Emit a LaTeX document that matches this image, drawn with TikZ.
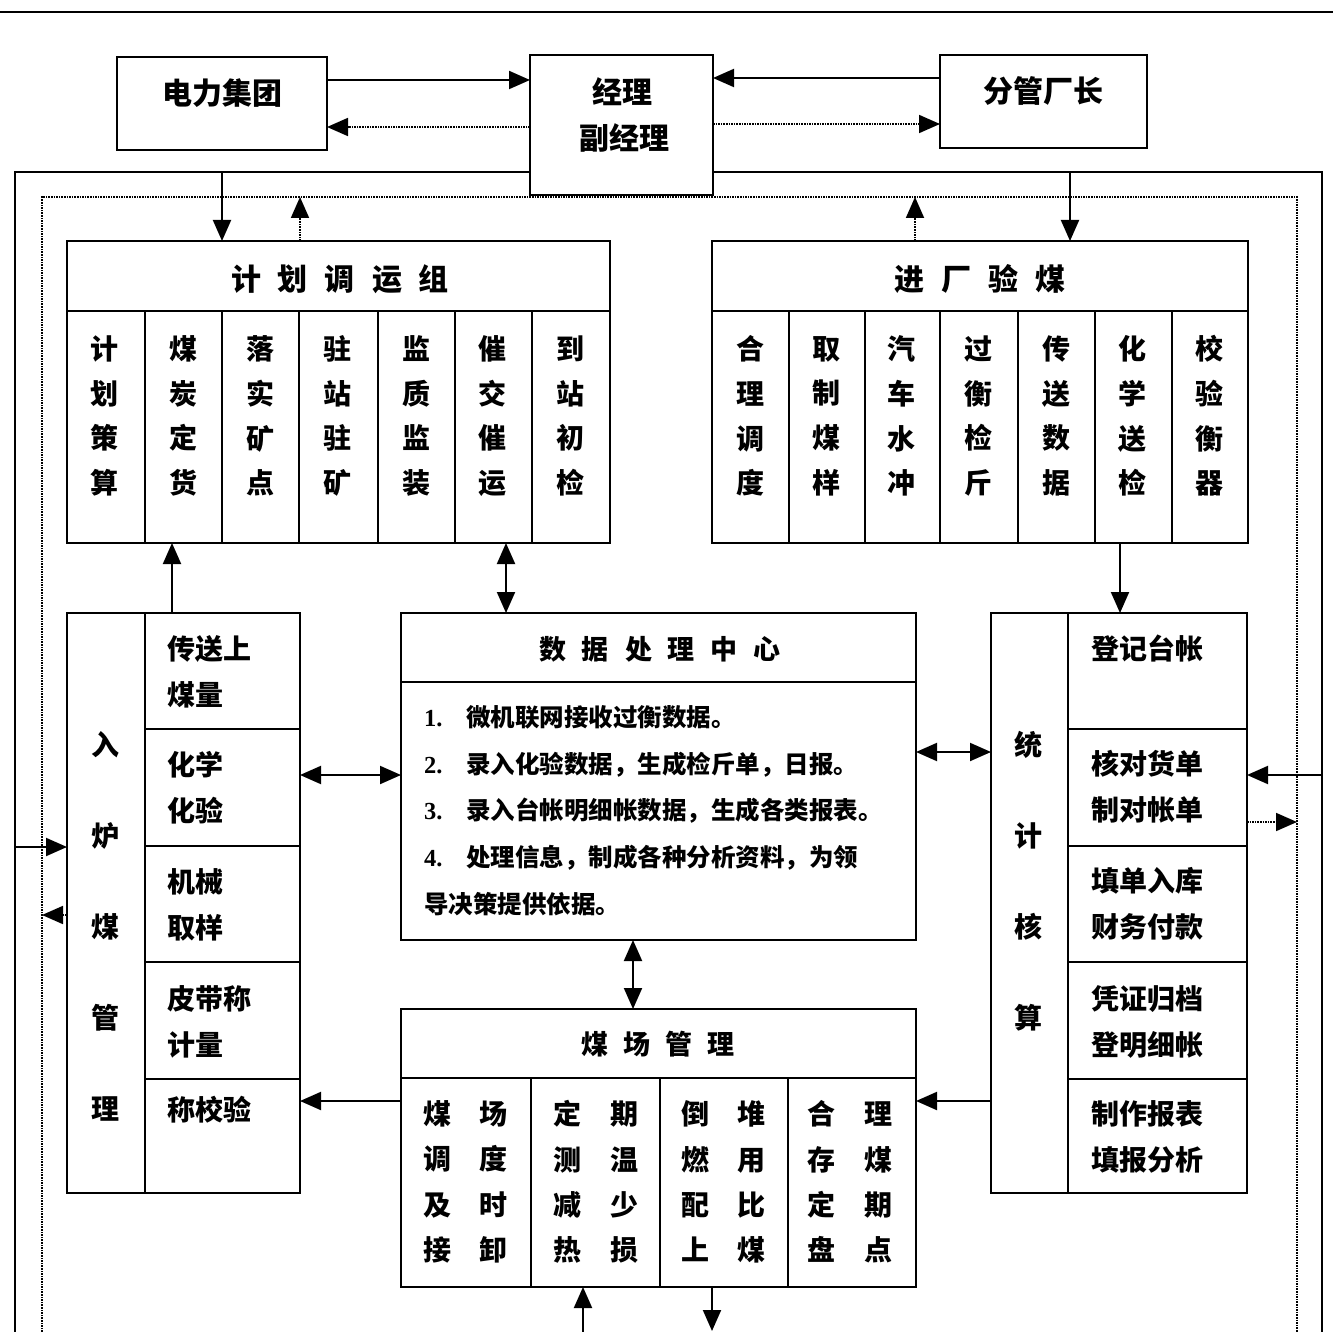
\documentclass[tikz,border=0pt]{standalone}
\usepackage{fontspec}
\setmainfont{Noto Sans CJK SC}
\newfontfamily\numf{Liberation Serif}
\usetikzlibrary{arrows.meta}
\newcommand\gapx[1]{\hspace{#1pt}}
\begin{document}
\begin{tikzpicture}[x=1pt,y=-1pt,
  box/.style={draw, line width=2.5pt, inner sep=0pt, outer sep=0pt},
  dv/.style={line width=2pt},
  con/.style={line width=2pt},
  dot/.style={line width=1.8pt, dash pattern=on 1.6pt off 1pt},
  tip/.tip={Triangle[length=21pt,width=18pt]},
  arr/.style={con, -tip},
  darr/.style={dot, -tip},
  barr/.style={con, tip-tip},
  txt/.style={inner sep=0pt, font=\bfseries\fontsize{#1pt}{#1pt}\selectfont},
  col/.style={inner sep=0pt, align=center, font=\bfseries\fontsize{28pt}{#1pt}\selectfont},
  cell/.style={inner sep=0pt, align=left, anchor=west, font=\bfseries\fontsize{28pt}{46pt}\selectfont},
]
\useasboundingbox (0,0) rectangle (1333,1332);
% header rule
\draw[line width=2.5pt] (0,12) -- (1333,12);

% ---------- boxes ----------
\node[box, minimum width=210pt, minimum height=93pt] (dl) at (222,103.5) {};
\node[box, minimum width=183pt, minimum height=140pt] (jl) at (621.5,125) {};
\node[box, minimum width=207pt, minimum height=93pt] (fg) at (1043.5,101.5) {};
\node[box, minimum width=543pt, minimum height=302pt] (jh) at (338.5,392) {};
\node[box, minimum width=536pt, minimum height=302pt] (jc) at (980,392) {};
\node[box, minimum width=233pt, minimum height=580pt] (rl) at (183.5,903) {};
\node[box, minimum width=515pt, minimum height=327pt] (sj) at (658.5,776.5) {};
\node[box, minimum width=256pt, minimum height=580pt] (tj) at (1119,903) {};
\node[box, minimum width=515pt, minimum height=278pt] (mc) at (658.5,1148) {};

% ---------- box texts ----------
\node[txt=30] (dlT) at (222,93) {电力集团};
\node[txt=30] (jlT1) at (622,92) {经理};
\node[txt=30] (jlT2) at (624,138) {副经理};
\node[txt=30] (fgT) at (1043,91) {分管厂长};

% 计划调运组
\draw[dv] (67,311) -- (610,311);
\foreach \x in {145,222,299,378,455,532} \draw[dv] (\x,311) -- (\x,543);
\node[txt=30] (jhT) at (340,279) {计\gapx{17}划\gapx{17}调\gapx{17}运\gapx{17}组};
\node[col=44.7] (jh1) at (104,416) {计\\划\\策\\算};
\node[col=44.7] (jh2) at (183,416) {煤\\炭\\定\\货};
\node[col=44.7] (jh3) at (260,416) {落\\实\\矿\\点};
\node[col=44.7] (jh4) at (337,416) {驻\\站\\驻\\矿};
\node[col=44.7] (jh5) at (416,416) {监\\质\\监\\装};
\node[col=44.7] (jh6) at (492,416) {催\\交\\催\\运};
\node[col=44.7] (jh7) at (570,416) {到\\站\\初\\检};

% 进厂验煤
\draw[dv] (712,311) -- (1248,311);
\foreach \x in {789,865,940,1018,1095,1172} \draw[dv] (\x,311) -- (\x,543);
\node[txt=30] (jcT) at (980,279) {进\gapx{17}厂\gapx{17}验\gapx{17}煤};
\node[col=44.7] (jc1) at (750,416) {合\\理\\调\\度};
\node[col=44.7] (jc2) at (826,416) {取\\制\\煤\\样};
\node[col=44.7] (jc3) at (901,416) {汽\\车\\水\\冲};
\node[col=44.7] (jc4) at (978,416) {过\\衡\\检\\斤};
\node[col=44.7] (jc5) at (1056,416) {传\\送\\数\\据};
\node[col=44.7] (jc6) at (1132,416) {化\\学\\送\\检};
\node[col=44.7] (jc7) at (1209,416) {校\\验\\衡\\器};

% 入炉煤管理
\draw[dv] (145,613) -- (145,1193);
\foreach \y in {729,846,962,1079} \draw[dv] (145,\y) -- (300,\y);
\node[col=91] (rlT) at (105,926.5) {入\\炉\\煤\\管\\理};
\node[cell] (rl1) at (167,671.5) {传送上\\煤量};
\node[cell] (rl2) at (167,788) {化学\\化验};
\node[cell] (rl3) at (167,905) {机械\\取样};
\node[cell] (rl4) at (167,1021.5) {皮带称\\计量};
\node[cell] (rl5) at (167,1110) {称校验};

% 统计核算
\draw[dv] (1068,613) -- (1068,1193);
\foreach \y in {729,846,962,1079} \draw[dv] (1068,\y) -- (1247,\y);
\node[col=91] (tjT) at (1028,881.5) {统\\计\\核\\算};
\node[cell] (tj1) at (1091,649) {登记台帐};
\node[cell] (tj2) at (1091,787) {核对货单\\制对帐单};
\node[cell] (tj3) at (1091,904) {填单入库\\财务付款};
\node[cell] (tj4) at (1091,1021.5) {凭证归档\\登明细帐};
\node[cell] (tj5) at (1091,1136.5) {制作报表\\填报分析};

% 数据处理中心
\draw[dv] (401,682) -- (916,682);
\node[txt=27] (sjT) at (660,649) {数\gapx{16}据\gapx{16}处\gapx{16}理\gapx{16}中\gapx{16}心};
\node[inner sep=0pt, align=left, anchor=west, font=\bfseries\fontsize{24.5pt}{46.75pt}\selectfont] (sjB) at (424,810.5)
 {\makebox[42pt][l]{\numf\bfseries 1.}微机联网接收过衡数据。\\
  \makebox[42pt][l]{\numf\bfseries 2.}录入化验数据，生成检斤单，日报。\\
  \makebox[42pt][l]{\numf\bfseries 3.}录入台帐明细帐数据，生成各类报表。\\
  \makebox[42pt][l]{\numf\bfseries 4.}处理信息，制成各种分析资料，为领\\
  导决策提供依据。};

% 煤场管理
\draw[dv] (401,1078) -- (916,1078);
\foreach \x in {531,660,788} \draw[dv] (\x,1078) -- (\x,1287);
\node[txt=27] (mcT) at (658,1044) {煤\gapx{15}场\gapx{15}管\gapx{15}理};
\node[col=45.3] (mc1) at (465.5,1182) {煤\gapx{29}场\\调\gapx{29}度\\及\gapx{29}时\\接\gapx{29}卸};
\node[col=45.3] (mc2) at (596,1182) {定\gapx{29}期\\测\gapx{29}温\\减\gapx{29}少\\热\gapx{29}损};
\node[col=45.3] (mc3) at (723.5,1182) {倒\gapx{29}堆\\燃\gapx{29}用\\配\gapx{29}比\\上\gapx{29}煤};
\node[col=45.3] (mc4) at (850,1182) {合\gapx{29}理\\存\gapx{29}煤\\定\gapx{29}期\\盘\gapx{29}点};

% ---------- frame lines ----------
\coordinate (oTL) at (15,172);
\coordinate (oBL) at (15,1332);
\coordinate (oTR) at (1322,172);
\coordinate (oBR) at (1322,1332);
\coordinate (dTL) at (42,197);
\coordinate (dBL) at (42,1332);
\coordinate (dTR) at (1297,197);
\coordinate (dBR) at (1297,1332);
\draw[con] (jl.west |- oTL) -- (oTL) -- (oBL);
\draw[con] (jl.east |- oTR) -- (oTR) -- (oBR);
\draw[dot] (dBL) -- (dTL) -- (dTR) -- (dBR);

% ---------- connectors ----------
\draw[arr] (dl.east |- 0,80) -- (jl.west |- 0,80);
\draw[darr] (jl.west |- 0,127) -- (dl.east |- 0,127);
\draw[arr] (fg.west |- 0,78) -- (jl.east |- 0,78);
\draw[darr] (jl.east |- 0,124) -- (fg.west |- 0,124);

\draw[arr] (222,172) -- (jh.north -| 222,0);
\draw[darr] (jh.north -| 300,0) -- (300,197);
\draw[darr] (jc.north -| 915,0) -- (915,197);
\draw[arr] (1070,172) -- (jc.north -| 1070,0);

\draw[arr] (rl.north -| 172,0) -- (jh.south -| 172,0);
\draw[barr] (jh.south -| 506,0) -- (sj.north -| 506,0);
\draw[barr] (rl.east |- 0,775) -- (sj.west |- 0,775);
\draw[barr] (sj.east |- 0,752) -- (tj.west |- 0,752);
\draw[barr] (sj.south -| 633,0) -- (mc.north -| 633,0);
\draw[arr] (jc.south -| 1120,0) -- (tj.north -| 1120,0);

\draw[arr] (oTL |- 0,847) -- (rl.west |- 0,847);
\draw[darr] (rl.west |- 0,915) -- (dTL |- 0,915);
\draw[arr] (oTR |- 0,775) -- (tj.east |- 0,775);
\draw[darr] (tj.east |- 0,822) -- (dTR |- 0,822);

\draw[arr] (tj.west |- 0,1101) -- (mc.east |- 0,1101);
\draw[arr] (mc.west |- 0,1101) -- (rl.east |- 0,1101);

\coordinate (bIn) at (583,1332);
\coordinate (bOut) at (712,1331);
\draw[arr] (bIn) -- (mc.south -| bIn);
\draw[arr] (mc.south -| bOut) -- (bOut);
\end{tikzpicture}
\end{document}
